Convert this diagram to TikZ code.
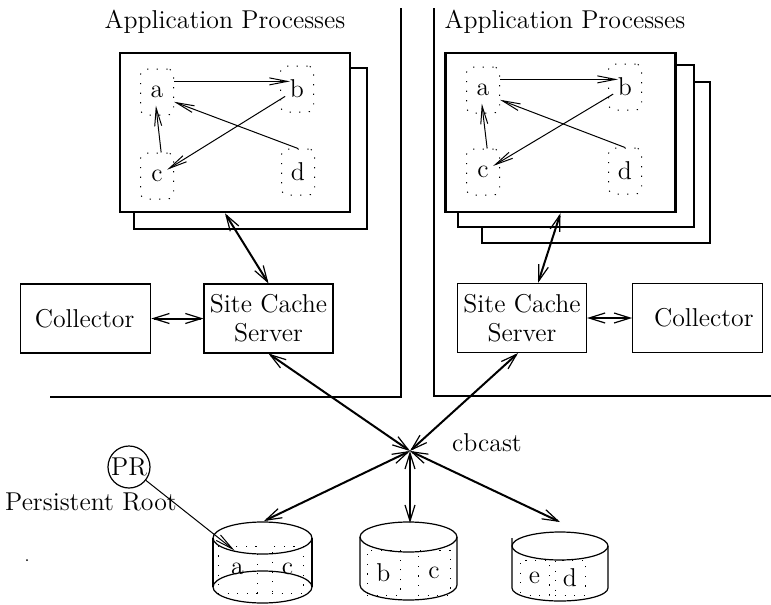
\documentclass[tikz,border=0pt,12pt]{standalone}
\usepackage{tikz}
\usetikzlibrary{arrows.meta}
\usetikzlibrary{positioning}
\tikzstyle{appbox} = [rectangle, minimum width=115pt, minimum height=79.5pt, draw=black, line width=1.3pt, fill=white]
\tikzstyle{shadowbox} = [draw=black, line width=1.3pt, fill=white]
\tikzstyle{proc} = [rectangle, rounded corners=3pt, minimum width=16.5pt, minimum height=23pt, inner sep=0pt, draw=black, line width=0.5pt, dash pattern=on 0.6pt off 4.2pt]
\tikzstyle{slot} = [rectangle, inner sep=0pt, draw=black, line width=0.5pt, dash pattern=on 0.6pt off 4.2pt]
\tikzstyle{server} = [rectangle, minimum width=64.5pt, minimum height=34.5pt, inner sep=1pt, align=center, draw=black, line width=0.6pt]
\tikzstyle{collector} = [rectangle, minimum height=34.5pt, draw=black, line width=0.6pt]
\tikzstyle{call} = [-{Straight Barb[length=9pt,width=3.5pt,line width=0.5pt]}, line width=0.5pt]
\tikzstyle{link} = [{Straight Barb[length=8pt,width=5pt,line width=0.6pt]}-{Straight Barb[length=8pt,width=5pt,line width=0.6pt]}, line width=1pt]
\tikzstyle{disk} = [line width=0.6pt]
\begin{document}
\begin{tikzpicture}[x=0.5pt, y=-0.5pt, font=\fontsize{12.9pt}{14.5pt}\selectfont]
\useasboundingbox (0,0) rectangle (771,605);

% site boundaries
\draw [line width=0.6pt] (401,8) -- (401,397) -- (50,397);
\draw [line width=0.6pt] (434,8) -- (434,396) -- (771,396);
\node (titleL) at (225,22) {Application Processes};
\node (titleR) at (565,22) {Application Processes};

% left site
\draw [shadowbox] (134,68) rectangle (367,229);
\node (appL) [appbox] at (235,132.5) {};
\node (aL) [proc] at (157,92) {a};
\node (bL) [proc] at (297,89) {b};
\node (cL) [proc] at (157,176) {c};
\node (dL) [proc] at (298,172) {d};
\draw [call, shorten >=-5pt] (aL.32) -- (aL.32 -| bL.west);
\draw [call, shorten <=-3pt, shorten >=-4pt] (bL) -- (cL);
\draw [call] (dL.north) -- (aL.-30);
\draw [call, shorten >=-5pt] (cL.80) -- (aL.south);

% right site
\draw [shadowbox] (482,82) rectangle (710,243);
\draw [shadowbox] (458,65) rectangle (694,227);
\node (appR) [appbox] at (560.5,132.5) {};
\node (aR) [proc] at (483,90) {a};
\node (bR) [proc] at (625,87) {b};
\node (cR) [proc] at (483,172) {c};
\node (dR) [proc] at (625,171) {d};
\draw [call, shorten >=-5pt] (aR.32) -- (aR.32 -| bR.west);
\draw [call, shorten <=-3pt, shorten >=-4pt] (bR) -- (cR);
\draw [call] (dR.north) -- (aR.-30);
\draw [call, shorten >=-5pt] (cR.80) -- (aR.south);

% servers and collectors
\node (scsL) [server] at (268.5,318.5) {Site Cache\\Server};
\node (collL) [collector, left=26pt of scsL, text width=51pt, inner xsep=7pt, align=left] {Collector};
\node (scsR) [server] at (522,318) {Site Cache\\Server};
\node (collR) [collector, right=22.5pt of scsR, text width=56pt, inner xsep=4.5pt, align=right] {Collector};

% persistent store
\coordinate (hub) at (410,451);
\node (cbcast) at (487,443) {cbcast};
\coordinate (diskA) at (264,521);
\coordinate (diskB) at (410,523);
\coordinate (diskC) at (560,522);

\draw [disk] (262.5,538) ellipse [x radius=24.75pt, y radius=8pt];
\draw [disk] (262.5,587) ellipse [x radius=24.75pt, y radius=8pt];
\draw [disk] (213,538) -- (213,587) (312,538) -- (312,587);
\node (slotA) [slot, minimum width=19.5pt, minimum height=23.5pt, text height=5pt, yshift=2pt] at (237.5,573.5) {a};
\node (slotC1) [slot, minimum width=15.5pt, minimum height=23.5pt, text height=5pt, yshift=2pt] at (287.5,573.5) {c};

\draw [disk] (408.5,537) ellipse [x radius=24.25pt, y radius=7.5pt];
\draw [disk] (360,537) -- (360,585) arc [start angle=180, end angle=360, x radius=24.25pt, y radius=7.5pt] -- (457,537);
\node (slotB) [slot, minimum width=16.5pt, minimum height=22.5pt] at (383.5,572.5) {b};
\node (slotC2) [slot, minimum width=16pt, minimum height=22.5pt] at (434,572.5) {c};

\draw [disk] (560,546) ellipse [x radius=24pt, y radius=7pt];
\draw [disk] (512,538) -- (512,588) arc [start angle=180, end angle=360, x radius=24pt, y radius=6.5pt] -- (608,546);
\node (slotE) [slot, minimum width=14.5pt, minimum height=17.5pt] at (534.5,577.5) {e};
\node (slotD) [slot, minimum width=15pt, minimum height=17.5pt] at (570,577.5) {d};

\node (pr) [circle, draw=black, line width=0.6pt, minimum size=21pt, inner sep=0pt] at (129,467) {PR};
\node (prlabel) at (91,502) {Persistent Root};
\draw [call] (pr) -- ([xshift=8.5pt,yshift=-2.5pt]slotA.north west);
\fill (27,560) circle (0.5pt);

% connections
\draw [link] ([xshift=-5pt]appL.south) -- (scsL.north);
\draw [link] (appR.south) -- ([xshift=8pt]scsR.north);
\draw [link] (collL) -- (scsL);
\draw [link] (scsR) -- (collR);
\draw [link] (hub) -- (scsL.south);
\draw [link] (hub) -- ([xshift=-2pt]scsR.south);
\draw [link] (hub) -- (diskA);
\draw [link] (hub) -- (diskB);
\draw [link] (hub) -- (diskC);
\end{tikzpicture}
\end{document}
